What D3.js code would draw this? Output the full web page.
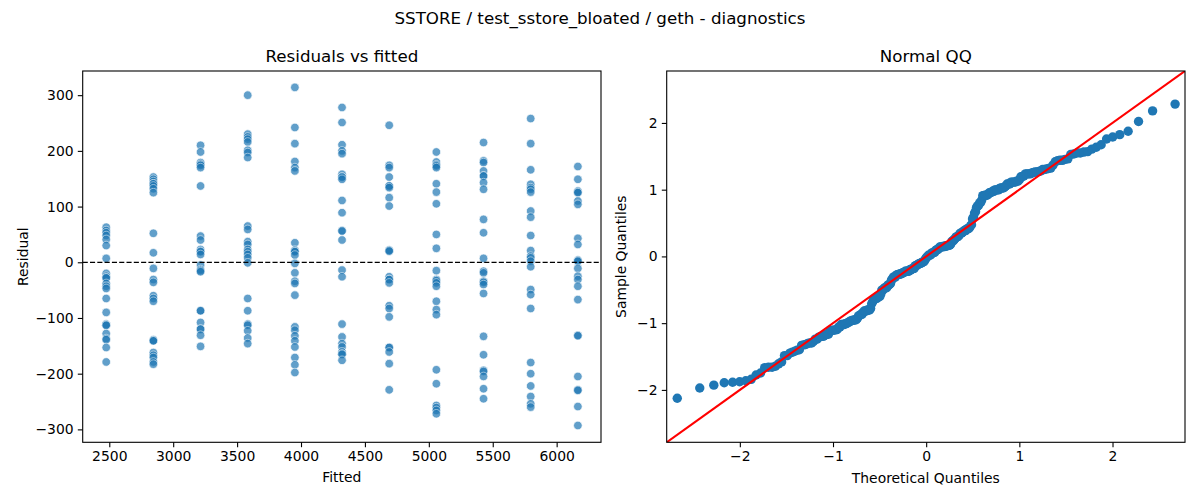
<!doctype html>
<html lang="en">
<head>
    <meta charset="utf-8">
    <title></title>
    <script src="https://d3js.org/d3.v7.min.js"></script>
    <style type="text/css">
        body { margin: 0; background: #fff; }
        text { font-family: "DejaVu Sans", sans-serif; fill: #000; }
    </style>
</head>

<body>
</body>

<script type="text/javascript">

    var width  = 1200;
    var height = 500;

    // fitted value of each group (x position of the columns)
    var fittedLevels = [2476, 2845, 3214, 3583, 3952, 4321, 4690, 5059, 5428, 5797, 6166];

    // residuals read per column
    var residG1  = [63, 57, 53, 48, 41, 30, 7, -20, -25, -28, -28, -38, -43, -47, -65, -90, -111, -113, -113, -128, -137, -139, -153, -179];
    var residG2  = [153, 149, 145, 141, 141, 137, 132, 125, 52, 17, -11, -31, -36, -60, -65, -70, -139, -141, -141, -162, -167, -171, -179, -183];
    var residG3  = [210, 198, 179, 176, 174, 170, 137, 47, 40, 23, 20, 19, 14, -5, -13, -15, -17, -87, -87, -108, -120, -120, -131, -151];
    var residG4  = [300, 230, 225, 221, 216, 201, 197, 188, 65, 59, 37, 32, 23, 19, 14, 8, -1, -65, -87, -111, -113, -123, -136, -146];
    var residG5  = [314, 242, 213, 181, 170, 164, 35, 22, 20, 19, 13, -2, -19, -34, -38, -59, -116, -122, -132, -141, -152, -171, -184, -198];
    var residG6  = [278, 251, 211, 200, 195, 158, 153, 153, 149, 111, 89, 57, 56, 40, -14, -26, -111, -134, -146, -152, -161, -165, -165, -176];
    var residG7  = [246, 174, 170, 153, 137, 137, 134, 116, 101, 22, 21, 20, -26, -31, -31, -37, -78, -83, -98, -153, -153, -161, -182, -229];
    var residG8  = [198, 180, 175, 173, 170, 141, 126, 105, 50, 25, -15, -31, -33, -37, -43, -70, -85, -94, -193, -218, -257, -261, -266, -272];
    var residG9  = [215, 182, 179, 164, 155, 155, 143, 131, 77, 53, 7, -16, -19, -34, -36, -40, -56, -133, -166, -194, -196, -205, -227, -245];
    var residG10 = [258, 213, 166, 140, 134, 131, 126, 92, 81, 48, 21, 11, 8, 2, -8, -49, -58, -83, -180, -200, -222, -241, -254, -260];
    var residG11 = [172, 149, 128, 126, 125, 110, 104, 43, 32, 4, 2, 2, -11, -25, -31, -43, -67, -131, -132, -205, -229, -230, -259, -293];
    var residualGroups = [residG1, residG2, residG3, residG4, residG5, residG6, residG7, residG8, residG9, residG10, residG11];

    var fittedTicks   = [2500, 3000, 3500, 4000, 4500, 5000, 5500, 6000];
    var residualTicks = [-300, -200, -100, 0, 100, 200, 300];
    var qqTicks       = [-2, -1, 0, 1, 2];

    var mainTitle  = "SSTORE / test_sstore_bloated / geth - diagnostics";
    var leftTitle  = "Residuals vs fitted";
    var rightTitle = "Normal QQ";

    var blue = "#1f77b4";

    // inverse normal cdf (Acklam)
    function normPpf(p) {
        var a = [-3.969683028665376e+01, 2.209460984245205e+02, -2.759285104469687e+02, 1.383577518672690e+02, -3.066479806614716e+01, 2.506628277459239e+00];
        var b = [-5.447609879822406e+01, 1.615858368580409e+02, -1.556989798598866e+02, 6.680131188771972e+01, -1.328068155288572e+01];
        var c = [-7.784894002430293e-03, -3.223964580411365e-01, -2.400758277161838e+00, -2.549732539343734e+00, 4.374664141464968e+00, 2.938163982698783e+00];
        var d = [7.784695709041462e-03, 3.224671290700398e-01, 2.445134137142996e+00, 3.754408661907416e+00];
        var q, r;
        if (p < 0.02425) {
            q = Math.sqrt(-2 * Math.log(p));
            return (((((c[0]*q+c[1])*q+c[2])*q+c[3])*q+c[4])*q+c[5]) / ((((d[0]*q+d[1])*q+d[2])*q+d[3])*q+1);
        }
        if (p > 1 - 0.02425) {
            q = Math.sqrt(-2 * Math.log(1 - p));
            return -(((((c[0]*q+c[1])*q+c[2])*q+c[3])*q+c[4])*q+c[5]) / ((((d[0]*q+d[1])*q+d[2])*q+d[3])*q+1);
        }
        q = p - 0.5; r = q * q;
        return (((((a[0]*r+a[1])*r+a[2])*r+a[3])*r+a[4])*r+a[5])*q / (((((b[0]*r+b[1])*r+b[2])*r+b[3])*r+b[4])*r+1);
    }

    var points = [];
    fittedLevels.forEach(function(f, i) {
        residualGroups[i].forEach(function(r) { points.push({fitted: f, resid: r}); });
    });

    // qq: standardised sorted residuals vs normal quantiles i/(n+1)
    var allResid = points.map(d => d.resid).sort(d3.ascending);
    var n = allResid.length;
    var mean = d3.mean(allResid);
    var sd = Math.sqrt(d3.mean(allResid, v => (v - mean) * (v - mean)));
    var qqData = allResid.map((v, i) => ({theo: normPpf((i + 1) / (n + 1)), sample: (v - mean) / sd}));

    var svg = d3.select("body")
        .append("svg")
        .attr("width", width)
        .attr("height", height);

    var fontTick = "13.9px";
    var fontTitle = "16.7px";

    svg.append("text")
        .attr("x", 600).attr("y", 24)
        .attr("text-anchor", "middle")
        .style("font-size", fontTitle)
        .text(mainTitle);

    var tickLen = 4.9;

    function drawFrame(g, x0, x1, y0, y1) {
        g.append("rect")
            .attr("x", x0).attr("y", y0)
            .attr("width", x1 - x0).attr("height", y1 - y0)
            .attr("fill", "none").attr("stroke", "#000").attr("stroke-width", 1.1);
    }

    function drawAxes(g, xScale, yScale, xTicks, yTicks, fmt) {
        var y1 = yScale.range()[0], x0 = xScale.range()[0];
        var xa = g.append("g").attr("transform", "translate(0," + y1 + ")")
            .call(d3.axisBottom(xScale).tickValues(xTicks).tickFormat(fmt).tickSize(tickLen).tickPadding(4.2));
        var ya = g.append("g").attr("transform", "translate(" + x0 + ",0)")
            .call(d3.axisLeft(yScale).tickValues(yTicks).tickFormat(fmt).tickSize(tickLen).tickPadding(4.2));
        [xa, ya].forEach(function(a) {
            a.select(".domain").remove();
            a.selectAll("line").attr("stroke", "#000").attr("stroke-width", 1.1);
            a.selectAll("text").style("font-size", fontTick).attr("fill", "#000")
                .style("font-family", "DejaVu Sans, sans-serif");
        });
    }

    // ---------- left: residuals vs fitted ----------
    var L = {x0: 82.7, x1: 601, y0: 71, y1: 442.3};
    var xLeft = d3.scaleLinear().domain([2292, 6347]).range([L.x0, L.x1]);
    var yLeft = d3.scaleLinear().domain([-323.2, 343.4]).range([L.y1, L.y0]);

    var gl = svg.append("g");
    gl.append("defs").append("clipPath").attr("id", "clipL")
        .append("rect").attr("x", L.x0).attr("y", L.y0).attr("width", L.x1 - L.x0).attr("height", L.y1 - L.y0);

    gl.append("g").attr("clip-path", "url(#clipL)")
        .selectAll("circle")
        .data(points)
        .enter()
        .append("circle")
        .attr("cx", d => xLeft(d.fitted))
        .attr("cy", d => yLeft(d.resid))
        .attr("r", 4.3)
        .attr("fill", blue)
        .attr("stroke", "#fff")
        .attr("stroke-width", 0.7)
        .attr("opacity", 0.7);

    gl.append("line")
        .attr("x1", L.x0).attr("x2", L.x1)
        .attr("y1", yLeft(0)).attr("y2", yLeft(0))
        .attr("stroke", "#000").attr("stroke-width", 1.3)
        .attr("stroke-dasharray", "5.1,2.2");

    drawFrame(gl, L.x0, L.x1, L.y0, L.y1);
    drawAxes(gl, xLeft, yLeft, fittedTicks, residualTicks, d3.format("d"));

    gl.append("text")
        .attr("x", (L.x0 + L.x1) / 2).attr("y", 62)
        .attr("text-anchor", "middle").style("font-size", fontTitle)
        .text(leftTitle);
    gl.append("text")
        .attr("x", (L.x0 + L.x1) / 2).attr("y", 481.5)
        .attr("text-anchor", "middle").style("font-size", fontTick)
        .text("Fitted");
    gl.append("text")
        .attr("transform", "translate(28," + ((L.y0 + L.y1) / 2) + ") rotate(-90)")
        .attr("text-anchor", "middle").style("font-size", fontTick)
        .text("Residual");

    // ---------- right: normal qq ----------
    var R = {x0: 666.7, x1: 1185, y0: 71, y1: 442.3};
    var qqLim = [-2.785, 2.778];
    var xRight = d3.scaleLinear().domain(qqLim).range([R.x0, R.x1]);
    var yRight = d3.scaleLinear().domain(qqLim).range([R.y1, R.y0]);

    var gr = svg.append("g");
    gr.append("defs").append("clipPath").attr("id", "clipR")
        .append("rect").attr("x", R.x0).attr("y", R.y0).attr("width", R.x1 - R.x0).attr("height", R.y1 - R.y0);

    var plotR = gr.append("g").attr("clip-path", "url(#clipR)");
    plotR.selectAll("circle")
        .data(qqData)
        .enter()
        .append("circle")
        .attr("cx", d => xRight(d.theo))
        .attr("cy", d => yRight(d.sample))
        .attr("r", 4.7)
        .attr("fill", blue);

    plotR.append("line")
        .attr("x1", xRight(qqLim[0])).attr("y1", yRight(qqLim[0]))
        .attr("x2", xRight(qqLim[1])).attr("y2", yRight(qqLim[1]))
        .attr("stroke", "red").attr("stroke-width", 2.1);

    drawFrame(gr, R.x0, R.x1, R.y0, R.y1);
    drawAxes(gr, xRight, yRight, qqTicks, qqTicks, d3.format("d"));

    gr.append("text")
        .attr("x", (R.x0 + R.x1) / 2).attr("y", 62)
        .attr("text-anchor", "middle").style("font-size", fontTitle)
        .text(rightTitle);
    gr.append("text")
        .attr("x", (R.x0 + R.x1) / 2).attr("y", 482.5)
        .attr("text-anchor", "middle").style("font-size", fontTick)
        .text("Theoretical Quantiles");
    gr.append("text")
        .attr("transform", "translate(626," + ((R.y0 + R.y1) / 2) + ") rotate(-90)")
        .attr("text-anchor", "middle").style("font-size", fontTick)
        .text("Sample Quantiles");

</script>

</html>
